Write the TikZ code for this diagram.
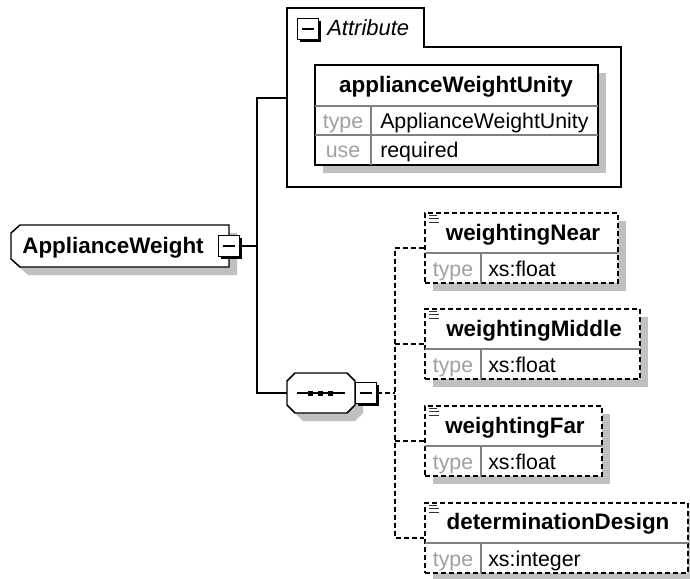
\documentclass[tikz,border=0pt]{standalone}
\usepackage{fontspec}
\setmainfont{Liberation Sans}
\usetikzlibrary{fit,shadows}

\definecolor{shadowgray}{HTML}{C0C0C0}
\definecolor{labelgray}{HTML}{A0A0A0}
\definecolor{rulegray}{HTML}{808080}

\begin{document}
\begin{tikzpicture}[x=0.75pt,y=-0.75pt,
    every node/.style={inner sep=0pt},
    font=\fontsize{16}{19}\selectfont,
    box/.style={draw,line width=1.1pt,fill=white},
    elem/.style={box,drop shadow={shadow xshift=6pt,shadow yshift=-6pt,fill=shadowgray,opacity=1}},
    optelem/.style={elem,dash pattern=on 3.75pt off 2.25pt},
    rule/.style={draw=rulegray,line width=0.8pt},
    title/.style={anchor=base,font=\fontsize{16.8}{19}\selectfont\bfseries},
    lbl/.style={anchor=base,text=labelgray},
    val/.style={anchor=base west},
    link/.style={line width=1.1pt},
    optlink/.style={link,dash pattern=on 3.75pt off 2.25pt},
    icon/.style={line width=0.9pt,draw=black!80},
    minus/.style={draw,line width=1.1pt,fill=white,minimum width=15.5pt,minimum height=15.5pt,
      drop shadow={shadow xshift=1.8pt,shadow yshift=-1.8pt,fill=black,opacity=1},
      path picture={\draw[line width=0.9pt] ([xshift=-4.5pt]path picture bounding box.center)
        -- ([xshift=4.5pt]path picture bounding box.center);}}]
  \useasboundingbox (0,0) rectangle (690,579);

  % root element
  \fill[shadowgray,shift={(8,8)}] (20,225) -- (229,225) -- (229,267) -- (20,267) -- (11,259) -- (11,233) -- cycle;
  \draw[box] (20,225) -- (229,225) -- (229,267) -- (20,267) -- (11,259) -- (11,233) -- cycle;
  \node[title] (root) at (113,253) {ApplianceWeight};
  \node[minus] (rootminus) at (229,246) {};

  % attribute group
  \draw[box] (287,187) -- (287,8) -- (424,8) -- (424,47) -- (621,47) -- (621,187) -- cycle;
  \node[minus] (attrminus) at (308,29) {};
  \node[anchor=base west,font=\fontsize{16.5}{19}\selectfont\itshape] (attrlabel) at (327,35) {Attribute};
  \coordinate (attrin) at (287,98);

  \node[elem,fit={(315,65) (598,165)}] (unity) {};
  \draw[rule] (315,106) -- (598,106);
  \draw[rule] (315,135) -- (598,135);
  \draw[rule] (371,106) -- (371,165);
  \node[title] (unitytitle) at (456,92) {applianceWeightUnity};
  \node[lbl] (unitytype) at (343,128) {type};
  \node[val] (unitytypeval) at (380,128) {ApplianceWeightUnity};
  \node[lbl] (unityuse) at (343,157) {use};
  \node[val] (unityuseval) at (380,157) {required};

  % sequence
  \fill[shadowgray,shift={(8,8)}] (295,373) -- (347,373) -- (355,381) -- (355,405) -- (347,413) -- (295,413) -- (287,405) -- (287,381) -- cycle;
  \draw[box] (295,373) -- (347,373) -- (355,381) -- (355,405) -- (347,413) -- (295,413) -- (287,405) -- (287,381) -- cycle;
  \node[fit={(287,373) (355,413)}] (seq) {};
  \draw[link] (297,393) -- (345,393);
  \foreach \x in {310,320,330}
    \fill (\x,393) +(-2.5,-2.5) rectangle +(2.5,2.5);
  \node[minus] (seqminus) at (366,393) {};

  % child elements
  \node[optelem,fit={(425,213) (618,283)}] (near) {};
  \draw[rule] (425,253) -- (618,253);
  \draw[rule] (481,253) -- (481,283);
  \node[title] (neartitle) at (523,240) {weightingNear};
  \node[lbl] (neartype) at (453,276) {type};
  \node[val] (neartypeval) at (488,276) {xs:float};

  \node[optelem,fit={(425,309) (640,379)}] (middle) {};
  \draw[rule] (425,349) -- (640,349);
  \draw[rule] (481,349) -- (481,379);
  \node[title] (middletitle) at (534,336) {weightingMiddle};
  \node[lbl] (middletype) at (453,372) {type};
  \node[val] (middletypeval) at (488,372) {xs:float};

  \node[optelem,fit={(425,406) (602,476)}] (far) {};
  \draw[rule] (425,446) -- (602,446);
  \draw[rule] (481,446) -- (481,476);
  \node[title] (fartitle) at (515,433) {weightingFar};
  \node[lbl] (fartype) at (453,469) {type};
  \node[val] (fartypeval) at (488,469) {xs:float};

  \node[optelem,fit={(425,503) (688,573)}] (design) {};
  \draw[rule] (425,543) -- (688,543);
  \draw[rule] (481,543) -- (481,573);
  \node[title] (designtitle) at (558,529) {determinationDesign};
  \node[lbl] (designtype) at (453,566) {type};
  \node[val] (designtypeval) at (488,566) {xs:integer};

  \foreach \n in {near,middle,far,design} {
    \draw[icon] ([shift={(5,3)}]\n.north west) -- ++(8,0);
    \draw[icon] ([shift={(5,6.5)}]\n.north west) -- ++(10,0);
    \draw[icon] ([shift={(5,10)}]\n.north west) -- ++(10,0);
  }

  % connectors
  \coordinate (fork) at (257,246);
  \coordinate (seqfork) at (395,393);
  \draw[link] (rootminus.east) -- (fork);
  \draw[link] (fork) |- (attrin);
  \draw[link] (fork) |- (seq.west);
  \draw[optlink] (seqminus.east) -- (seqfork);
  \draw[optlink] (near.west) -| (seqfork) |- (design.west);
  \draw[optlink] (seqfork |- middle.west) -- (middle.west);
  \draw[optlink] (seqfork |- far.west) -- (far.west);
\end{tikzpicture}
\end{document}
